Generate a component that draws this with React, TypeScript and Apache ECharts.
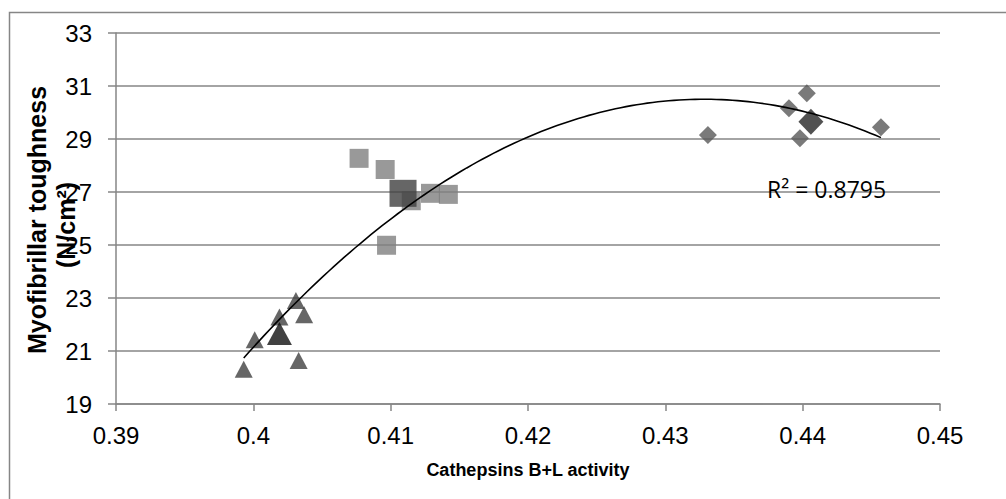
import React, { useEffect, useRef } from "react";
import * as echarts from "echarts";

// Cathepsins B+L activity (x) vs Myofibrillar toughness (y)
const triangleX = [0.3993, 0.4001, 0.4019, 0.4031, 0.4037, 0.4033];
const triangleY = [20.31, 21.42, 22.28, 22.91, 22.37, 20.64];
const triangleMean = [0.4019, 21.66];

const squareX = [0.4077, 0.4096, 0.4115, 0.4129, 0.4142, 0.4097];
const squareY = [28.27, 27.85, 26.67, 26.95, 26.91, 24.99];
const squareMean = [0.4109, 26.95];

const diamondX = [0.4403, 0.439, 0.4398, 0.4331, 0.4457];
const diamondY = [30.73, 30.16, 29.03, 29.15, 29.44];
const diamondMean = [0.4406, 29.65];

// Polynomial (order 2) trendline, vertex form
const TREND_PEAK_X = 0.4328;
const TREND_PEAK_Y = 30.5;
const TREND_CURVATURE = 8700;
const TREND_X_START = 0.3993;
const TREND_X_END = 0.4457;
const R2_LABEL = "R² = 0.8795";

const xTicks = { min: 0.39, max: 0.45, interval: 0.01 };
const yTicks = { min: 19, max: 33, interval: 2 };

const zip = (xs: number[], ys: number[]) => xs.map((x, i) => [x, ys[i]]);

function trendPoints(): number[][] {
  const pts: number[][] = [];
  const n = 120;
  for (let i = 0; i <= n; i++) {
    const x = TREND_X_START + ((TREND_X_END - TREND_X_START) * i) / n;
    const y = TREND_PEAK_Y - TREND_CURVATURE * (x - TREND_PEAK_X) ** 2;
    pts.push([x, y]);
  }
  return pts;
}

const AXIS_GRAY = "#868686";

export default function App() {
  const ref = useRef<HTMLDivElement>(null);
  useEffect(() => {
    if (!ref.current) return;
    const chart = echarts.init(ref.current, null, { renderer: "svg" });
    chart.setOption({
      animation: false,
      backgroundColor: "#ffffff",
      grid: { left: 116, top: 33, right: 66, bottom: 95, containLabel: false },
      xAxis: {
        type: "value",
        min: xTicks.min,
        max: xTicks.max,
        interval: xTicks.interval,
        axisLine: { show: true, lineStyle: { color: AXIS_GRAY, width: 1.5 } },
        axisTick: { show: true, length: 7, lineStyle: { color: AXIS_GRAY, width: 1.5 } },
        splitLine: { show: false },
        axisLabel: {
          fontSize: 24,
          fontFamily: "Liberation Sans, Arial, sans-serif",
          color: "#000",
          margin: 19,
          formatter: (v: number) => String(+v.toFixed(2)),
        },
      },
      yAxis: {
        type: "value",
        min: yTicks.min,
        max: yTicks.max,
        interval: yTicks.interval,
        axisLine: { show: true, lineStyle: { color: AXIS_GRAY, width: 1.5 } },
        axisTick: { show: true, length: 8, lineStyle: { color: AXIS_GRAY, width: 1.5 } },
        splitLine: { show: true, lineStyle: { color: AXIS_GRAY, width: 1.5 } },
        axisLabel: {
          fontSize: 24,
          fontFamily: "Liberation Sans, Arial, sans-serif",
          color: "#000",
          margin: 24,
        },
      },
      series: [
        {
          type: "scatter",
          data: zip(triangleX, triangleY),
          symbol: "triangle",
          symbolSize: [18, 17],
          itemStyle: { color: "#404040" },
        },
        {
          type: "scatter",
          data: [triangleMean],
          symbol: "triangle",
          symbolSize: [25, 23],
          itemStyle: { color: "#111111" },
        },
        {
          type: "scatter",
          data: zip(squareX, squareY),
          symbol: "rect",
          symbolSize: 19,
          itemStyle: { color: "#808080" },
        },
        {
          type: "scatter",
          data: [squareMean],
          symbol: "rect",
          symbolSize: 27,
          itemStyle: { color: "#404040" },
        },
        {
          type: "scatter",
          data: zip(diamondX, diamondY),
          symbol: "diamond",
          symbolSize: [18, 18],
          itemStyle: { color: "#595959" },
        },
        {
          type: "scatter",
          data: [diamondMean],
          symbol: "diamond",
          symbolSize: [25, 26],
          itemStyle: { color: "#262626" },
        },
        {
          type: "line",
          data: trendPoints(),
          showSymbol: false,
          symbol: "none",
          smooth: false,
          lineStyle: { color: "#000", width: 1.6 },
          z: 5,
        },
      ],
      graphic: [
        {
          type: "rect",
          shape: { x: 9.5, y: 12.5, width: 1010, height: 510 },
          style: { fill: "none", stroke: AXIS_GRAY, lineWidth: 1.5 },
          silent: true,
        },
        {
          type: "text",
          x: 37,
          y: 220,
          rotation: Math.PI / 2,
          style: {
            text: "Myofibrillar toughness",
            fontSize: 25,
            fontWeight: "bold",
            fontFamily: "Liberation Sans, Arial, sans-serif",
            fill: "#000",
            textAlign: "center",
            textVerticalAlign: "middle",
          },
        },
        {
          type: "text",
          x: 66,
          y: 225,
          rotation: Math.PI / 2,
          style: {
            text: "(N/cm²)",
            fontSize: 25,
            fontWeight: "bold",
            fontFamily: "Liberation Sans, Arial, sans-serif",
            fill: "#000",
            textAlign: "center",
            textVerticalAlign: "middle",
          },
        },
        {
          type: "text",
          x: 528,
          y: 470,
          style: {
            text: "Cathepsins B+L activity",
            fontSize: 18,
            fontWeight: "bold",
            fontFamily: "Liberation Sans, Arial, sans-serif",
            fill: "#000",
            textAlign: "center",
            textVerticalAlign: "middle",
          },
        },
        {
          type: "text",
          x: 767,
          y: 189,
          z: 10,
          style: {
            text: R2_LABEL,
            fontSize: 23,
            fontFamily: "Open Sans, Liberation Sans, sans-serif",
            fill: "#000",
            textAlign: "left",
            textVerticalAlign: "middle",
          },
        },
      ],
    });
    return () => chart.dispose();
  }, []);
  return (
    <div
      ref={ref}
      style={{ position: "fixed", left: 0, top: 0, width: 1006, height: 499 }}
    />
  );
}
